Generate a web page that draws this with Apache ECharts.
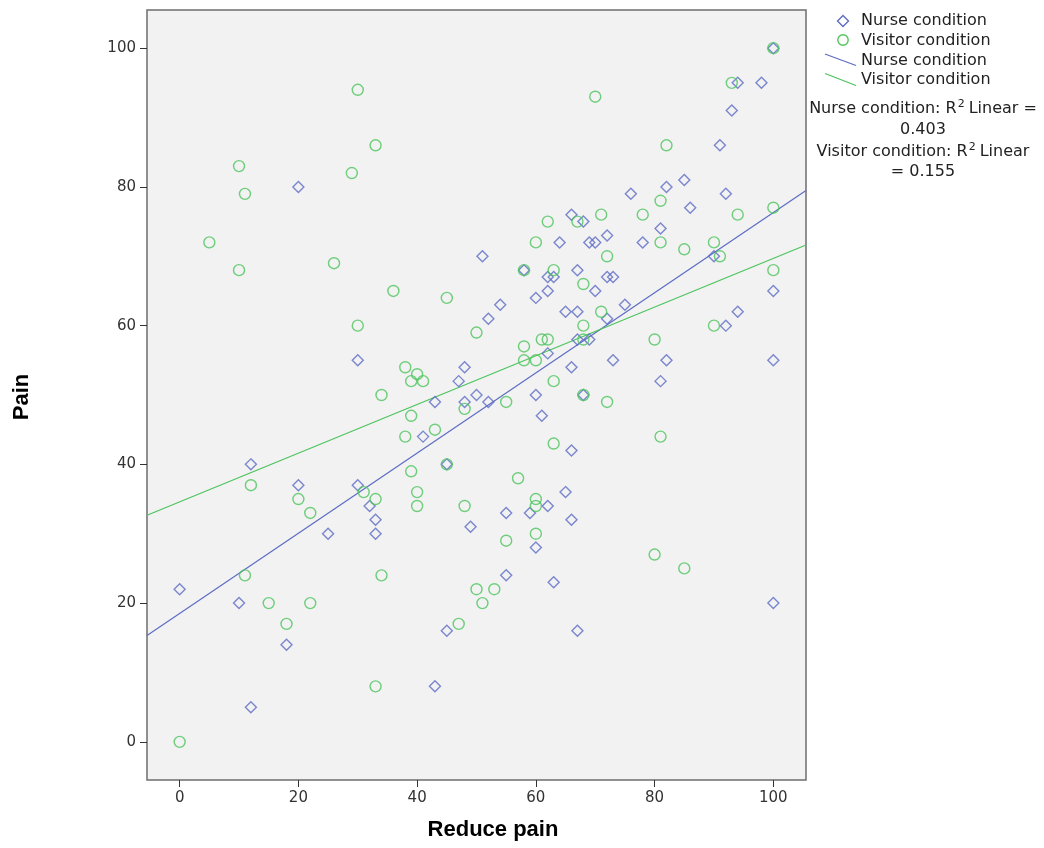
<!DOCTYPE html>
<html>
<head>
<meta charset="utf-8">
<style>
  html, body { margin: 0; padding: 0; background: #ffffff; }
  #chart { width: 1044px; height: 848px; }
</style>
<script src="https://cdn.jsdelivr.net/npm/echarts@6/dist/echarts.min.js"></script>
</head>
<body>
<div id="chart"></div>
<script>
// Reduce pain (x) vs Pain (y), one point per respondent
const nursePoints = [
  [0,22],[10,20],[12,40],[12,5],[18,14],[20,80],[20,37],[25,30],[30,55],[30,37],
  [32,34],[33,32],[33,30],[41,44],[43,49],[43,8],[45,40],[45,16],[47,52],[48,54],
  [48,49],[49,31],[50,50],[51,70],[52,61],[52,49],[54,63],[55,33],[55,24],[58,68],
  [59,33],[60,64],[60,50],[60,28],[61,47],[62,67],[62,65],[62,56],[62,34],[63,67],
  [63,23],[64,72],[65,62],[65,36],[66,76],[66,54],[66,42],[66,32],[67,68],[67,62],
  [67,58],[67,16],[68,75],[68,50],[69,72],[69,58],[70,72],[70,65],[72,73],[72,67],
  [72,61],[73,67],[73,55],[75,63],[76,79],[78,72],[81,74],[81,52],[82,80],[82,55],
  [85,81],[86,77],[90,70],[91,86],[92,79],[92,60],[93,91],[94,95],[94,62],[98,95],
  [100,100],[100,65],[100,55],[100,20]
];
const visitorPoints = [
  [0,0],[5,72],[10,83],[10,68],[11,79],[11,24],[12,37],[15,20],[18,17],[20,35],
  [22,33],[22,20],[26,69],[29,82],[30,94],[30,60],[31,36],[33,86],[33,35],[33,8],
  [34,50],[34,24],[36,65],[38,54],[38,44],[39,52],[39,47],[39,39],[40,53],[40,36],
  [40,34],[41,52],[43,45],[45,64],[45,40],[47,17],[48,48],[48,34],[50,59],[50,22],
  [51,20],[53,22],[55,49],[55,29],[57,38],[58,68],[58,57],[58,55],[60,72],[60,55],
  [60,35],[60,34],[60,30],[61,58],[62,75],[62,58],[63,68],[63,52],[63,43],[67,75],
  [68,66],[68,60],[68,58],[68,50],[70,93],[71,76],[71,62],[72,70],[72,49],[78,76],
  [80,58],[80,27],[81,78],[81,72],[81,44],[82,86],[85,71],[85,25],[90,72],[90,60],
  [91,70],[93,95],[94,76],[100,100],[100,77],[100,68]
];
const tickValues = [0, 20, 40, 60, 80, 100];
const seriesNames = ['Nurse condition', 'Visitor condition'];
const rSquared = ['0.403', '0.155'];

const AXIS_MIN = -5.5, AXIS_MAX = 105.5;
const NURSE_COLOR = '#5c6cc4';
const VISITOR_COLOR = '#4cc45c';

// Ordinary least-squares fit, evaluated across the full x-axis span
function fitLine(points) {
  const n = points.length;
  let sx = 0, sy = 0, sxx = 0, sxy = 0;
  points.forEach(([x, y]) => { sx += x; sy += y; sxx += x * x; sxy += x * y; });
  const slope = (n * sxy - sx * sy) / (n * sxx - sx * sx);
  const icept = (sy - slope * sx) / n;
  return [[AXIS_MIN, icept + slope * AXIS_MIN], [AXIS_MAX, icept + slope * AXIS_MAX]];
}

const chart = echarts.init(document.getElementById('chart'));
const FONT = 'DejaVu Sans';
const LEGEND_FONT = '16px "DejaVu Sans"';

const axisCommon = {
  type: 'value',
  min: AXIS_MIN,
  max: AXIS_MAX,
  splitLine: { show: false },
  axisLine: { show: false, onZero: false },
  axisTick: {
    show: true, customValues: tickValues, length: 7,
    lineStyle: { color: '#333', width: 1 }
  },
  axisLabel: {
    customValues: tickValues, color: '#333',
    fontFamily: FONT, fontSize: 15, margin: 11
  }
};

const supRich = { sup: { fontSize: 11, fontFamily: FONT, fill: '#222', padding: [0, 4, 9, 1] } };

chart.setOption({
  animation: false,
  backgroundColor: '#ffffff',
  grid: {
    left: 147, top: 10, width: 659, height: 770,
    show: true, backgroundColor: '#f2f2f2',
    borderColor: '#6e6e6e', borderWidth: 1.5
  },
  xAxis: axisCommon,
  yAxis: axisCommon,
  series: [
    {
      name: seriesNames[0], type: 'scatter', data: nursePoints,
      symbol: 'diamond', symbolSize: 11,
      itemStyle: { color: 'rgba(0,0,0,0)', borderColor: NURSE_COLOR, borderWidth: 1.4 },
      z: 3
    },
    {
      name: seriesNames[1], type: 'scatter', data: visitorPoints,
      symbol: 'circle', symbolSize: 11,
      itemStyle: { color: 'rgba(0,0,0,0)', borderColor: VISITOR_COLOR, borderWidth: 1.4 },
      z: 3
    },
    {
      name: seriesNames[0] + ' fit', type: 'line', data: fitLine(nursePoints),
      showSymbol: false, symbol: 'none',
      lineStyle: { color: NURSE_COLOR, width: 1.2 }, z: 2
    },
    {
      name: seriesNames[1] + ' fit', type: 'line', data: fitLine(visitorPoints),
      showSymbol: false, symbol: 'none',
      lineStyle: { color: VISITOR_COLOR, width: 1.2 }, z: 2
    }
  ],
  graphic: [
    // axis titles
    {
      type: 'text', x: 493, y: 830,
      style: {
        text: 'Reduce pain', fill: '#000', align: 'center', verticalAlign: 'middle',
        font: 'bold 22px "Liberation Sans", Arial, sans-serif'
      }
    },
    {
      type: 'text', x: 22, y: 397, rotation: Math.PI / 2,
      style: {
        text: 'Pain', fill: '#000', align: 'center', verticalAlign: 'middle',
        font: 'bold 22px "Liberation Sans", Arial, sans-serif'
      }
    },
    // legend: point markers
    {
      type: 'polygon', shape: { points: [[843, 15.5], [848.5, 21], [843, 26.5], [837.5, 21]] },
      style: { fill: 'none', stroke: NURSE_COLOR, lineWidth: 1.4 }
    },
    {
      type: 'circle', shape: { cx: 843, cy: 40, r: 5.2 },
      style: { fill: 'none', stroke: VISITOR_COLOR, lineWidth: 1.4 }
    },
    // legend: fit lines
    {
      type: 'line', shape: { x1: 825, y1: 54, x2: 856, y2: 65.5 },
      style: { stroke: NURSE_COLOR, lineWidth: 1.2 }
    },
    {
      type: 'line', shape: { x1: 825, y1: 73.5, x2: 856, y2: 85.5 },
      style: { stroke: VISITOR_COLOR, lineWidth: 1.2 }
    },
    {
      type: 'text', x: 861, y: 21,
      style: { text: seriesNames[0], fill: '#222', verticalAlign: 'middle', font: LEGEND_FONT }
    },
    {
      type: 'text', x: 861, y: 41,
      style: { text: seriesNames[1], fill: '#222', verticalAlign: 'middle', font: LEGEND_FONT }
    },
    {
      type: 'text', x: 861, y: 61,
      style: { text: seriesNames[0], fill: '#222', verticalAlign: 'middle', font: LEGEND_FONT }
    },
    {
      type: 'text', x: 861, y: 80,
      style: { text: seriesNames[1], fill: '#222', verticalAlign: 'middle', font: LEGEND_FONT }
    },
    // R-squared notes
    {
      type: 'text', x: 923, y: 109,
      style: {
        text: seriesNames[0] + ': R{sup|2}Linear =', fill: '#222', align: 'center', verticalAlign: 'middle',
        font: LEGEND_FONT, rich: supRich
      }
    },
    {
      type: 'text', x: 923, y: 130,
      style: { text: rSquared[0], fill: '#222', align: 'center', verticalAlign: 'middle', font: LEGEND_FONT }
    },
    {
      type: 'text', x: 923, y: 152,
      style: {
        text: seriesNames[1] + ': R{sup|2}Linear', fill: '#222', align: 'center', verticalAlign: 'middle',
        font: LEGEND_FONT, rich: supRich
      }
    },
    {
      type: 'text', x: 923, y: 172,
      style: { text: '= ' + rSquared[1], fill: '#222', align: 'center', verticalAlign: 'middle', font: LEGEND_FONT }
    }
  ]
});
</script>
</body>
</html>
